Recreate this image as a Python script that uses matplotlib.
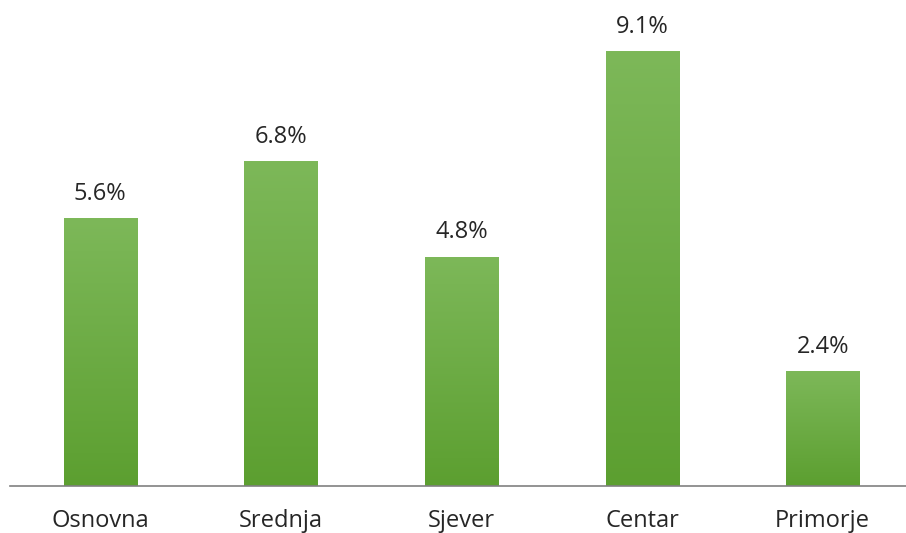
import matplotlib
matplotlib.use("Agg")
import matplotlib.pyplot as plt
import numpy as np
from matplotlib.colors import LinearSegmentedColormap

categories = ["Osnovna", "Srednja", "Sjever", "Centar", "Primorje"]
values = [5.6, 6.8, 4.8, 9.1, 2.4]
labels = ["5.6%", "6.8%", "4.8%", "9.1%", "2.4%"]

plt.rcParams['font.family'] = ['Open Sans', 'DejaVu Sans']

fig = plt.figure(figsize=(9.06, 5.33), dpi=100)
ax = fig.add_axes([10/906, 47/533, 903/906, 486/533])

x = np.arange(len(categories))
bars = ax.bar(x, values, width=0.405, color="#6aac3e", zorder=2)

cmap = LinearSegmentedColormap.from_list("g", ["#5c9f30", "#7db859"])
grad = np.linspace(0, 1, 256).reshape(-1, 1)
for b in bars:
    x0, y0 = b.get_x(), b.get_y()
    w, h = b.get_width(), b.get_height()
    im = ax.imshow(grad, cmap=cmap, extent=[x0, x0 + w, y0, y0 + h],
                   origin="lower", aspect="auto", zorder=3)
    im.set_clip_path(b)

for xi, v, lab in zip(x, values, labels):
    ax.annotate(lab, (xi, v), xytext=(0, 9), textcoords="offset points",
                ha="center", va="bottom", fontsize=17, color="#262626")

ax.set_xlim(-0.5, 4.5)
ax.set_ylim(0, 10.17)
ax.set_xticks(x)
ax.set_xticklabels(categories, fontsize=17, color="#262626")
ax.tick_params(axis="x", length=0, pad=16.5)
ax.set_yticks([])
for s in ["top", "right", "left"]:
    ax.spines[s].set_visible(False)
ax.spines["bottom"].set_color("#808080")
ax.spines["bottom"].set_linewidth(1.2)
ax.spines["bottom"].set_zorder(4)

fig.savefig("out.png", dpi=100)
